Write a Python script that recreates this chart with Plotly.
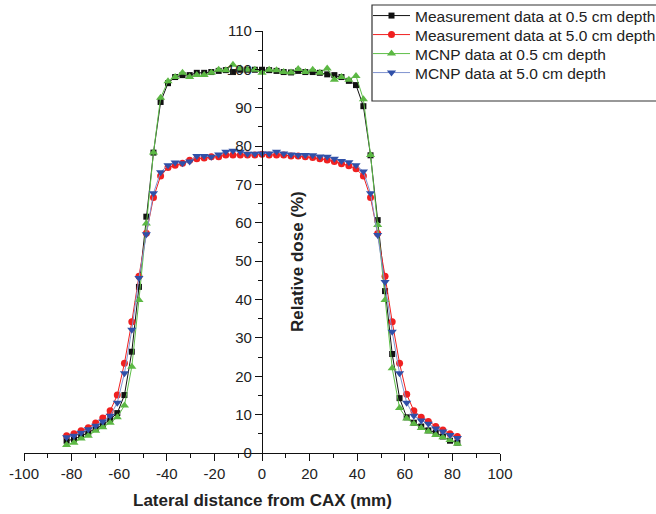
import plotly.graph_objects as go

lateral_mm = [-82.1, -79.0, -76.0, -73.0, -69.9, -66.9, -63.8, -60.8, -57.8, -54.7,
              -51.7, -48.6, -45.6, -42.6, -39.5, -36.5, -33.4, -30.4, -27.4, -24.3,
              -21.3, -18.2, -15.2, -12.2, -9.1, -6.1, -3.0, 0.0, 3.0, 6.1,
              9.1, 12.2, 15.2, 18.2, 21.3, 24.3, 27.4, 30.4, 33.4, 36.5,
              39.5, 42.6, 45.6, 48.6, 51.7, 54.7, 57.8, 60.8, 63.8, 66.9,
              69.9, 73.0, 76.0, 79.0, 82.1]

meas_05 = [3.2, 3.6, 4.4, 5.3, 6.4, 7.3, 8.8, 10.4, 15.1, 26.4,
           43.3, 61.6, 78.3, 91.5, 96.4, 98.0, 98.5, 98.5, 99.1, 99.1,
           99.3, 99.6, 99.8, 99.3, 99.9, 99.9, 99.9, 99.9, 99.8, 99.6,
           99.3, 99.2, 99.6, 99.3, 99.3, 99.1, 98.7, 98.5, 98.0, 97.0,
           95.9, 90.4, 77.6, 60.7, 42.2, 25.8, 14.3, 9.3, 7.9, 6.9,
           5.9, 5.3, 4.3, 3.2, 2.7]

meas_50 = [4.5, 5.0, 5.8, 6.6, 7.8, 9.1, 11.0, 15.1, 23.4, 34.2,
           46.1, 57.3, 66.6, 72.2, 74.4, 75.0, 75.5, 76.3, 76.7, 76.9,
           77.2, 77.2, 77.7, 77.7, 77.7, 77.7, 77.7, 77.9, 77.7, 77.7,
           77.7, 77.4, 77.4, 77.2, 77.0, 76.7, 76.4, 76.0, 75.4, 74.9,
           74.1, 72.2, 66.6, 57.2, 46.1, 34.2, 23.4, 15.3, 11.0, 9.3,
           8.2, 6.9, 6.0, 5.0, 4.3]

mcnp_05 = [2.1, 2.7, 3.8, 4.5, 5.8, 6.7, 7.9, 9.3, 12.4, 22.5,
           39.9, 59.8, 78.3, 92.6, 96.9, 98.0, 99.1, 98.0, 98.5, 98.5,
           99.1, 99.9, 99.8, 101.2, 100.2, 99.9, 99.9, 99.1, 99.9, 99.8,
           99.3, 99.2, 100.1, 99.3, 99.9, 99.1, 100.2, 97.3, 98.0, 97.3,
           98.3, 92.2, 77.7, 59.4, 39.9, 22.1, 11.7, 9.0, 7.6, 6.5,
           5.6, 4.7, 4.1, 3.4, 2.4]

mcnp_50 = [4.1, 4.5, 5.3, 6.2, 7.1, 8.2, 9.7, 13.1, 20.8, 32.1,
           45.6, 57.0, 67.7, 73.2, 75.0, 75.7, 75.5, 76.0, 77.4, 77.4,
           77.2, 77.8, 78.5, 78.8, 78.5, 78.0, 78.0, 78.1, 78.1, 78.5,
           78.1, 77.8, 77.7, 77.7, 77.6, 77.3, 77.2, 76.7, 76.1, 75.8,
           75.0, 73.4, 67.7, 56.8, 44.6, 31.6, 20.8, 13.1, 9.7, 8.5,
           7.6, 6.4, 5.6, 4.7, 3.9]

series_names = ["Measurement data at 0.5 cm depth",
                "Measurement data at 5.0 cm depth",
                "MCNP data at 0.5 cm depth",
                "MCNP data at 5.0 cm depth"]

x_ticks = [-100, -80, -60, -40, -20, 0, 20, 40, 60, 80, 100]
x_tick_text = ["-100", "-80", "-60", "-40", "-20", "0", "20", "40", "60", "80", "100"]
y_ticks = [0, 10, 20, 30, 40, 50, 60, 70, 80, 90, 100, 110]

FONT = "Liberation Sans, Arial, sans-serif"

styles = [
    dict(line_color="#111111", marker_color="#111111", symbol="square", size=6),
    dict(line_color="#f02020", marker_color="#f02020", symbol="circle", size=7),
    dict(line_color="#5fbf4a", marker_color="#5cb844", symbol="triangle-up", size=8),
    dict(line_color="#7f93cf", marker_color="#3050a8", symbol="triangle-down", size=8),
]

W, H = 656, 514
L, R, T, B = 24, 156, 31, 61
pw, ph = W - L - R, H - T - B

def px_x(p):
    return (p - L) / pw

def px_y(p):
    return (H - B - p) / ph

legend_ids = ["legend", "legend2", "legend3", "legend4"]
legend_tops = [-1, 18, 37, 56]

fig = go.Figure()
for name, ys, st, lid in zip(series_names, [meas_05, meas_50, mcnp_05, mcnp_50], styles, legend_ids):
    fig.add_trace(go.Scatter(
        x=lateral_mm, y=ys, name=name, mode="lines+markers",
        line=dict(color=st["line_color"], width=1),
        marker=dict(color=st["marker_color"], symbol=st["symbol"], size=st["size"],
                    line=dict(width=0)),
        legend=lid,
    ))

legend_common = dict(xanchor="left", yanchor="top",
                     bgcolor="rgba(0,0,0,0)", borderwidth=0,
                     font=dict(family=FONT, size=15.5, color="#222222"),
                     itemwidth=37)
legend_layout = {}
for lid, top in zip(legend_ids, legend_tops):
    legend_layout[lid] = dict(x=px_x(368), y=px_y(top), **legend_common)

fig.update_layout(
    width=W, height=H,
    margin=dict(l=L, r=R, t=T, b=B, autoexpand=False),
    paper_bgcolor="white", plot_bgcolor="white",
    font=dict(family=FONT, size=15, color="#222222"),
    showlegend=True,
    xaxis=dict(range=[-100, 100], tickmode="array", tickvals=x_ticks, ticktext=x_tick_text,
               ticks="outside", ticklen=7, tickwidth=1.3, tickcolor="#111111",
               showline=True, linecolor="#111111", linewidth=1.3,
               showgrid=False, zeroline=False,
               minor=dict(dtick=10, tick0=0, ticks="outside", ticklen=4,
                          tickcolor="#111111", tickwidth=1.2),
               tickfont=dict(family=FONT, size=15, color="#222222")),
    yaxis=dict(range=[0, 110], tickmode="array", tickvals=y_ticks,
               anchor="free", position=0.5, side="left",
               ticks="outside", ticklen=7, tickwidth=1.3, tickcolor="#111111",
               showline=True, linecolor="#111111", linewidth=1.3,
               showgrid=False, zeroline=False,
               minor=dict(dtick=5, tick0=0, ticks="outside", ticklen=4,
                          tickcolor="#111111", tickwidth=1.2),
               tickfont=dict(family=FONT, size=15, color="#222222")),
    **legend_layout,
)

fig.add_shape(type="rect", xref="paper", yref="paper",
              x0=px_x(372), x1=px_x(670), y0=px_y(101), y1=px_y(5),
              line=dict(color="#333333", width=1.2), fillcolor="rgba(0,0,0,0)")

fig.add_annotation(text="<b>Relative dose (%)</b>", textangle=-90,
                   xref="paper", yref="paper", x=px_x(297), y=px_y(262),
                   xanchor="center", yanchor="middle", showarrow=False,
                   font=dict(family=FONT, size=17, color="#222222"))
fig.add_annotation(text="<b>Lateral distance from CAX (mm)</b>",
                   xref="paper", yref="paper", x=0.5, y=px_y(500),
                   xanchor="center", yanchor="middle", showarrow=False,
                   font=dict(family=FONT, size=17, color="#222222"))

fig.write_html("out.html")
